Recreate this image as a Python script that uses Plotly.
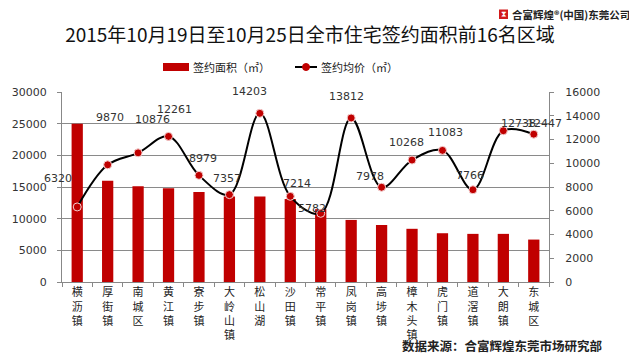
import plotly.graph_objects as go

# ---------------- data ----------------
categories = ["横沥镇", "厚街镇", "南城区", "黄江镇", "寮步镇", "大岭山镇", "松山湖", "沙田镇",
              "常平镇", "凤岗镇", "高埗镇", "樟木头镇", "虎门镇", "道滘镇", "大朗镇", "东城区"]
area = [25000, 16000, 15100, 14800, 14200, 13500, 13500, 13100,
        11500, 9800, 9000, 8400, 7700, 7600, 7600, 6700]
price = [6320, 9870, 10876, 12261, 8979, 7357, 14203, 7214,
         5782, 13812, 7978, 10268, 11083, 7766, 12738, 12447]
left_ticks = [0, 5000, 10000, 15000, 20000, 25000, 30000]
right_ticks = [0, 2000, 4000, 6000, 8000, 10000, 12000, 14000, 16000]
series_names = ["签约面积（㎡）", "签约均价（㎡）"]
title_text = "2015年10月19日至10月25日全市住宅签约面积前16名区域"
source_text = "数据来源：合富辉煌东莞市场研究部"
logo_text = "合富辉煌®(中国)东莞公司"

# label offsets (px) relative to each point, as placed in the original
label_dx = [-19, 2, 14, 6, 4, -2, -10, 7, -9, -5, -12, -6, 3, -3, 15, 11]
label_dy = [-28, -47, -33, -27, -17, -16, -22, -13, -5, -21, -11, -18, -18, -14, -7, -11]

# ---------------- layout geometry ----------------
OFF = 8                      # default page body margin (top/left)
W, H = 637 - OFF, 356 - OFF  # figure size
L, R, T, B = 62 - OFF, 88, 92 - OFF, 74
RED = "#C00000"
CJK = "Noto Sans CJK SC"
NUM = "DejaVu Sans"


def px_x(p):
    # p: page pixel x
    return (p - OFF - L) / (W - L - R)


def px_y(p):
    return (H - B - (p - OFF)) / (H - T - B)


tick_labels = ["<br>".join(list(c)) for c in categories]

fig = go.Figure()
fig.add_trace(go.Bar(
    x=categories, y=area, name=series_names[0],
    marker=dict(color=RED, line=dict(width=0)),
    width=0.37, yaxis="y",
))
fig.add_trace(go.Scatter(
    x=categories, y=price, name=series_names[1], yaxis="y2",
    mode="lines+markers",
    line=dict(color="black", width=2, shape="spline", smoothing=1.0),
    marker=dict(color=RED, size=8, line=dict(color="#f4d0d0", width=1)),
))

annotations = []
for i, (c, v) in enumerate(zip(categories, price)):
    annotations.append(dict(
        x=c, y=v, xref="x", yref="y2", text=str(v), showarrow=False,
        xshift=label_dx[i], yshift=-label_dy[i],
        font=dict(family=NUM, size=11, color="#333333"),
    ))

# custom legend
shapes = [
    dict(type="rect", xref="paper", yref="paper",
         x0=px_x(163), x1=px_x(189), y0=px_y(71), y1=px_y(63),
         fillcolor=RED, line=dict(width=0)),
    dict(type="line", xref="paper", yref="paper",
         x0=px_x(295), x1=px_x(317), y0=px_y(67), y1=px_y(67),
         line=dict(color="black", width=2)),
    dict(type="circle", xref="paper", yref="paper",
         x0=px_x(302.5), x1=px_x(309.5), y0=px_y(70.5), y1=px_y(63.5),
         fillcolor=RED, line=dict(color=RED, width=1)),
    # logo icon
    dict(type="rect", xref="paper", yref="paper",
         x0=px_x(499), x1=px_x(508), y0=px_y(19), y1=px_y(9.5),
         fillcolor="#d21a1a", line=dict(width=0)),
]
annotations += [
    dict(x=px_x(191), y=px_y(67), xref="paper", yref="paper", text=series_names[0],
         showarrow=False, xanchor="left", yanchor="middle",
         font=dict(family=CJK, size=11, color="#222")),
    dict(x=px_x(319), y=px_y(67), xref="paper", yref="paper", text=series_names[1],
         showarrow=False, xanchor="left", yanchor="middle",
         font=dict(family=CJK, size=11, color="#222")),
    dict(x=px_x(605), y=px_y(345), xref="paper", yref="paper", text="<b>" + source_text + "</b>",
         showarrow=False, xanchor="right", yanchor="middle",
         font=dict(family=CJK, size=12.5, color="#222")),
    dict(x=px_x(510), y=px_y(14.5), xref="paper", yref="paper", text="<b>" + logo_text + "</b>",
         showarrow=False, xanchor="left", yanchor="middle",
         font=dict(family=CJK, size=10.5, color="#222")),
    dict(x=px_x(503.5), y=px_y(14.2), xref="paper", yref="paper", text="⧗",
         showarrow=False, xanchor="center", yanchor="middle",
         font=dict(family="DejaVu Sans", size=8, color="white")),
]

fig.update_layout(
    width=W, height=H,
    margin=dict(l=L, r=R, t=T, b=B, pad=0, autoexpand=False),
    paper_bgcolor="white", plot_bgcolor="white",
    showlegend=False,
    title=dict(text=title_text, x=(310 - OFF) / W, xanchor="center",
               y=1 - (35 - OFF) / H, yanchor="middle",
               font=dict(family=CJK, size=19, color="#111")),
    xaxis=dict(
        type="category", tickmode="array", tickvals=categories, ticktext=tick_labels,
        range=[-0.5, len(categories) - 0.5], autorange=False, automargin=False,
        tickfont=dict(family=CJK, size=11, color="#222"),
        showline=True, linecolor="#888", linewidth=1,
        ticks="outside", ticklen=4, tickcolor="#888", tickson="boundaries",
        showgrid=False,
    ),
    yaxis=dict(
        range=[0, 30000], tickmode="array", tickvals=left_ticks,
        ticktext=[str(v) for v in left_ticks], automargin=False,
        tickfont=dict(family=NUM, size=11, color="#333"),
        showline=True, linecolor="#888", linewidth=1,
        ticks="outside", ticklen=4, tickcolor="#888",
        showgrid=True, gridcolor="#8a8a8a", gridwidth=1, zeroline=False,
        ticklabelstandoff=8,
    ),
    yaxis2=dict(
        range=[0, 16000], tickmode="array", tickvals=right_ticks,
        ticktext=[str(v) for v in right_ticks], automargin=False,
        overlaying="y", side="right",
        tickfont=dict(family=NUM, size=11, color="#333"),
        showline=True, linecolor="#888", linewidth=1,
        ticks="outside", ticklen=4, tickcolor="#888",
        showgrid=False, zeroline=False,
        ticklabelstandoff=9,
    ),
    shapes=shapes,
    annotations=annotations,
)

fig.write_html("out.html")
